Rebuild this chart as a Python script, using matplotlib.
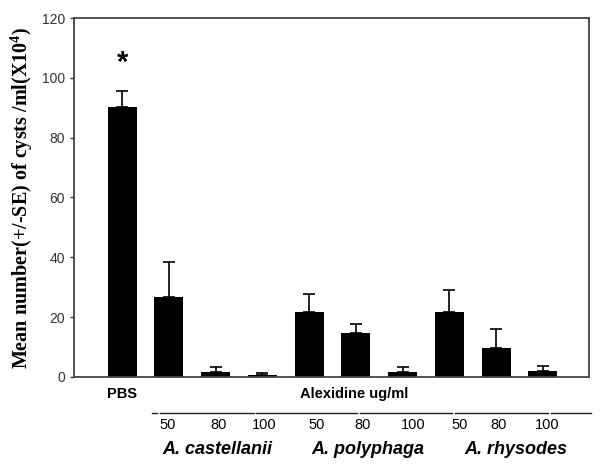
import matplotlib
matplotlib.use('Agg')
import matplotlib.pyplot as plt
import numpy as np

# values
groups = ['PBS', 'A. castellanii', 'A. castellanii', 'A. castellanii',
          'A. polyphaga', 'A. polyphaga', 'A. polyphaga',
          'A. rhysodes', 'A. rhysodes', 'A. rhysodes']
doses = ['', '50', '80', '100', '50', '80', '100', '50', '80', '100']
means = [90.2, 26.8, 1.8, 0.7, 21.7, 14.7, 1.7, 21.7, 9.7, 2.0]
errors = [5.3, 11.7, 1.4, 0.7, 5.9, 3.1, 1.5, 7.4, 6.2, 1.7]
species = ['A. castellanii', 'A. polyphaga', 'A. rhysodes']

# small label nudges (data units), the labels in the original are not centred
dose_nudge = [0, -0.02, 0.06, 0.04, 0.15, 0.15, 0.23, 0.23, 0.06, 0.1]
species_nudge = [0.03, 0.25, 0.43]
line_breaks = [0.6, 0.77, 2.84, 5.06, 7.09, 9.15, 10.06]

plt.rcParams['mathtext.fontset'] = 'custom'
plt.rcParams['mathtext.rm'] = 'Liberation Serif:bold'
plt.rcParams['mathtext.bf'] = 'Liberation Serif:bold'

fig = plt.figure(figsize=(6.02, 4.69), dpi=100)
ax = fig.add_axes([0.1229, 0.1962, 0.855, 0.7654])

x = np.arange(len(means))
ax.bar(x, means, width=0.62, color='black', zorder=2)
ax.errorbar(x, means, yerr=[np.zeros(len(errors)), errors], fmt='none',
            ecolor='black', elinewidth=1.2, capsize=4, capthick=1.2, zorder=3)

ax.set_xlim(-1.03, 9.98)
ax.set_ylim(0, 120)
ax.set_yticks(range(0, 121, 20))
ax.set_xticks([])
ax.tick_params(axis='y', direction='out', length=3, width=1, colors='#333333',
               labelsize=10)
for lab in ax.get_yticklabels():
    lab.set_fontfamily('Liberation Sans')
for sp in ax.spines.values():
    sp.set_color('#444444')
    sp.set_linewidth(1.3)

ax.set_ylabel('Mean number(+/-SE) of cysts /ml(X10$^{4}$)',
              fontfamily='Liberation Serif', fontweight='bold', fontsize=14.5,
              labelpad=5)

# significance star
ax.text(0, means[0] + errors[0] + 9.5, '*', ha='center', va='center',
        fontsize=21, fontweight='bold', fontfamily='Liberation Sans')

trans = ax.get_xaxis_transform()
# first row of labels
ax.text(0, -0.047, 'PBS', transform=trans, ha='center', va='center',
        fontsize=10.5, fontweight='bold', fontfamily='Liberation Sans')
ax.text(4.96, -0.047, 'Alexidine ug/ml', transform=trans, ha='center', va='center',
        fontsize=10.5, fontweight='bold', fontfamily='Liberation Sans')

# separator line with small gaps
for a, b in zip(line_breaks[:-1], line_breaks[1:]):
    ax.plot([a + 0.03, b - 0.03], [-0.1, -0.1], transform=trans, color='#222222',
            lw=1.0, clip_on=False)

for xi, d, n in zip(x, doses, dose_nudge):
    if d:
        ax.text(xi + n, -0.134, d, transform=trans, ha='center', va='center',
                fontsize=10.5, fontfamily='Liberation Sans')

for s, n in zip(species, species_nudge):
    xs = x[[g == s for g in groups]]
    ax.text(xs.mean() + n, -0.203, s, transform=trans, ha='center', va='center',
            fontsize=13, fontweight='bold', fontstyle='italic',
            fontfamily='Liberation Sans')

fig.savefig('out.png', dpi=100)
